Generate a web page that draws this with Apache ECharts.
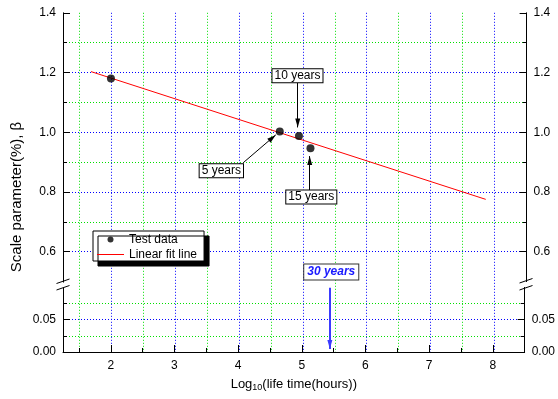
<!DOCTYPE html>
<html lang="en">
<head>
    <meta charset="UTF-8">
    <title>Scale parameter vs life time</title>
    <style>
        html, body { margin: 0; padding: 0; background: #fff; }
    </style>
</head>
<body>
<div id="main" style="width: 558px;height:399px;"></div>
<script type="text/javascript" src="https://cdn.jsdelivr.net/npm/echarts@6/dist/echarts.min.js"></script>
<script type="text/javascript">
    // measured data
    var testX = [2.00, 4.64, 4.94, 5.12];
    var testY = [1.180, 1.002, 0.987, 0.946];
    var fitX = [1.688, 7.861];
    var fitY = [1.203, 0.775];

    // tick values
    var xMajor = [2, 3, 4, 5, 6, 7, 8];
    var xMinor = [1.5, 2.5, 3.5, 4.5, 5.5, 6.5, 7.5];
    var yUpMajor = [0.6, 0.8, 1.0, 1.2, 1.4];
    var yUpMinor = [0.7, 0.9, 1.1, 1.3];
    var yLowMajor = [0, 0.05];
    var yLowMinor = [0.025, 0.075];

    // annotations (text boxes and arrows, in data units)
    var noteText = ['5 years', '10 years', '15 years', '30 years'];
    var noteX = [3.726, 4.917, 5.133, 5.445];
    var noteY = [0.871, 1.189, 0.783, 0.532];
    var arrowUp = [
        [[4.070, 0.898], [4.577, 0.991]],
        [[4.921, 1.167], [4.921, 1.016]],
        [[5.108, 0.806], [5.108, 0.920]]
    ];
    var arrowLow = [[5.441, 0.0995], [5.441, 0.0046]];

    var FONT = 'Liberation Sans, Arial, sans-serif';
    var BLUE = '#0000ff';
    var GREEN = '#00e000';

    var myChart = echarts.init(document.getElementById('main'));

    // grid 0: upper part, grid 1: lower part, grid 2: whole frame (vertical grid lines only)
    function xAx(grid, ticks, major, bottom, split) {
        return {
            type: 'value', gridIndex: grid, min: 1.25, max: 8.5, position: 'bottom',
            axisLine: {show: bottom && major, onZero: false, lineStyle: {color: '#000', width: 1}},
            axisTick: {show: bottom, inside: true, length: major ? 7 : 4, customValues: ticks,
                lineStyle: {color: '#000'}},
            axisLabel: {show: bottom && major, customValues: ticks, margin: 8, color: '#000',
                fontSize: 12, fontFamily: FONT},
            splitLine: {show: split, lineStyle: {color: major ? BLUE : GREEN, type: [1, 2], width: 1}}
        };
    }

    function yAx(grid, min, max, ticks, major, side, digits, split) {
        var o = {
            type: 'value', gridIndex: grid, min: min, max: max, position: side,
            axisLine: {show: major, onZero: false, lineStyle: {color: '#000', width: 1}},
            axisTick: {show: true, inside: true, length: major ? 7 : 4, customValues: ticks,
                lineStyle: {color: '#000'}},
            axisLabel: {show: major, customValues: ticks, margin: 7, color: '#000',
                fontSize: 12, fontFamily: FONT,
                formatter: function (v) { return v.toFixed(digits); }},
            splitLine: {show: split, lineStyle: {color: major ? BLUE : GREEN, type: [1, 2], width: 1}}
        };
        if (split && major) {
            o.splitLine.showMaxLine = grid !== 0;
            o.splitLine.showMinLine = grid === 0;
        }
        return o;
    }

    var xBottom = xAx(1, xMajor, true, true, false);
    xBottom.name = 'Log{sub|10}(life time(hours))';
    xBottom.nameLocation = 'middle';
    xBottom.nameGap = 24;
    xBottom.nameTextStyle = {color: '#000', fontSize: 13, fontFamily: FONT,
        rich: {sub: {fontSize: 9, fontFamily: FONT, color: '#000', padding: [7, 0, 0, 0]}}};

    var upMin = 0.4801, upMax = 1.4, lowMin = 0, lowMax = 0.1;

    var noteData = noteText.map(function (t, i) {
        var d = {name: t, value: [noteX[i], noteY[i]]};
        if (i === 3) {
            d.label = {fontWeight: 'bold', fontStyle: 'italic', color: '#1a1aff',
                borderColor: '#333', padding: [2, 3, 1, 3]};
        }
        return d;
    });

    function arrowPair(p, color, w) {
        return [
            {coord: p[0], symbol: 'none'},
            {coord: p[1], symbol: 'path://M2.5,0 L5,9 L0,9 Z', symbolSize: [5, 9],
                symbolOffset: [0, 4.5], lineStyle: {color: color, width: w},
                itemStyle: {color: color}}
        ];
    }

    var option = {
        animation: false,
        grid: [
            {left: 63, right: 31.4, top: 12.8, height: 274.6},
            {left: 63, right: 31.4, top: 287.4, height: 64.6},
            {left: 63, right: 31.4, top: 12.8, height: 339.2}
        ],
        legend: {
            data: [
                {name: 'Test data', icon: 'circle'},
                {name: 'Linear fit line', icon: 'path://M0,0 L27,0 L27,1 L0,1 Z'}
            ],
            orient: 'vertical', left: 93, top: 231,
            padding: [2, 7, 0, 4], itemGap: 2, itemWidth: 27, itemHeight: 6,
            backgroundColor: '#fff', borderColor: '#000', borderWidth: 1,
            shadowColor: '#000', shadowOffsetX: 5, shadowOffsetY: 5, shadowBlur: 0,
            textStyle: {fontSize: 12, color: '#000', fontFamily: FONT, lineHeight: 13}
        },
        xAxis: [
            xAx(0, xMajor, true, false, false),
            xBottom,
            xAx(1, xMinor, false, true, false),
            xAx(2, xMajor, true, false, true),
            xAx(2, xMinor, false, false, true)
        ],
        yAxis: [
            yAx(0, upMin, upMax, yUpMajor, true, 'left', 1, true),
            yAx(0, upMin, upMax, yUpMinor, false, 'left', 1, true),
            yAx(0, upMin, upMax, yUpMajor, true, 'right', 1, false),
            yAx(0, upMin, upMax, yUpMinor, false, 'right', 1, false),
            yAx(1, lowMin, lowMax, yLowMajor, true, 'left', 2, true),
            yAx(1, lowMin, lowMax, yLowMinor, false, 'left', 2, true),
            yAx(1, lowMin, lowMax, yLowMajor, true, 'right', 2, false),
            yAx(1, lowMin, lowMax, yLowMinor, false, 'right', 2, false),
            {type: 'value', gridIndex: 2, min: 0, max: 1, show: false}
        ],
        series: [
            {
                name: 'Linear fit line', type: 'line', xAxisIndex: 0, yAxisIndex: 0,
                data: fitX.map(function (x, i) { return [x, fitY[i]]; }),
                symbol: 'none', lineStyle: {color: '#ff0000', width: 1}, itemStyle: {color: '#ff0000'},
                z: 3
            },
            {
                name: 'Test data', type: 'scatter', xAxisIndex: 0, yAxisIndex: 0,
                data: testX.map(function (x, i) { return [x, testY[i]]; }),
                symbol: 'circle', symbolSize: 8, itemStyle: {color: '#000'}, z: 4
            },
            {
                name: 'notes', type: 'scatter', xAxisIndex: 0, yAxisIndex: 0,
                data: noteData, symbolSize: 0, silent: true, z: 6,
                itemStyle: {color: '#000', opacity: 1},
                label: {show: true, position: 'inside', formatter: '{b}', color: '#000',
                    opacity: 1, fontSize: 12, fontFamily: FONT, lineHeight: 12,
                    backgroundColor: '#fff', borderColor: '#000', borderWidth: 1,
                    padding: [1, 2, 0, 2]},
                markLine: {
                    silent: true, animation: false,
                    label: {show: false},
                    lineStyle: {color: '#000', width: 1, type: 'solid'},
                    data: arrowUp.map(function (p) { return arrowPair(p, '#000', 1); })
                }
            },
            {
                name: 'notes-low', type: 'scatter', xAxisIndex: 1, yAxisIndex: 4,
                data: [], silent: true, z: 6,
                markLine: {
                    silent: true, animation: false,
                    label: {show: false},
                    lineStyle: {color: '#3b3bff', width: 2, type: 'solid'},
                    data: [arrowPair(arrowLow, '#3b3bff', 2)]
                }
            }
        ],
        graphic: [
            {type: 'text', x: 17, y: 197, rotation: Math.PI / 2, z: 10,
                style: {text: 'Scale parameter(%), \u03b2', font: '15px ' + FONT, fill: '#000',
                    textAlign: 'center', textVerticalAlign: 'middle'}},
            // axis break marks
            {type: 'rect', shape: {x: 61, y: 282.5, width: 4, height: 5}, style: {fill: '#fff'}, z: 10},
            {type: 'line', shape: {x1: 56.5, y1: 283.5, x2: 69.5, y2: 279}, style: {stroke: '#000', lineWidth: 1}, z: 11},
            {type: 'line', shape: {x1: 56.5, y1: 290, x2: 69.5, y2: 285.5}, style: {stroke: '#000', lineWidth: 1}, z: 11},
            {type: 'rect', shape: {x: 524, y: 282, width: 4, height: 5}, style: {fill: '#fff'}, z: 10},
            {type: 'line', shape: {x1: 519.5, y1: 283, x2: 532.5, y2: 278.5}, style: {stroke: '#000', lineWidth: 1}, z: 11},
            {type: 'line', shape: {x1: 519.5, y1: 290, x2: 532.5, y2: 285.5}, style: {stroke: '#000', lineWidth: 1}, z: 11}
        ]
    };
    myChart.setOption(option);
</script>
</body>
</html>
